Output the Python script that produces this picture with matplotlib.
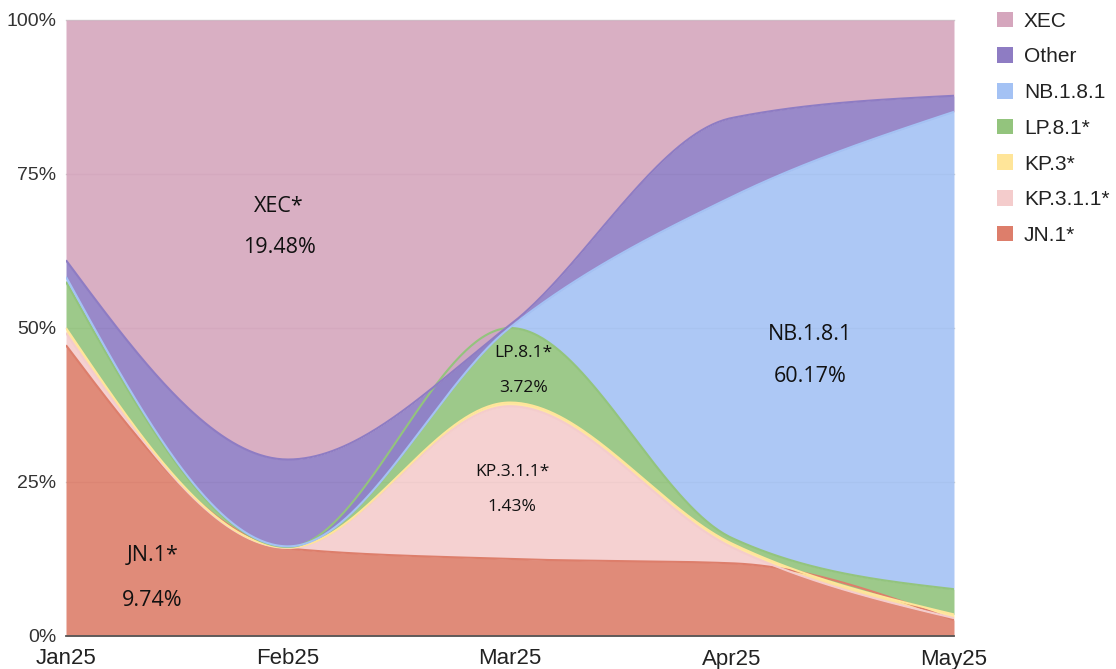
import numpy as np
import matplotlib
matplotlib.use("Agg")
import matplotlib.pyplot as plt
from matplotlib.patches import Patch

months = ["Jan25", "Feb25", "Mar25", "Apr25", "May25"]
series_names = ["JN.1*", "KP.3.1.1*", "KP.3*", "LP.8.1*", "NB.1.8.1", "Other", "XEC"]
jn1 = [47.2, 14.2, 12.5, 11.8, 2.6]
kp311 = [2.0, 0.1, 24.8, 2.6, 0.3]
kp3 = [0.8, 0.05, 0.6, 0.6, 0.6]
lp81 = [7.5, 0.1, 12.1, 0.9, 4.1]
nb181 = [0.8, 0.1, 0.1, 55.4, 77.5]
other = [2.7, 14.1, 0.4, 12.8, 2.6]
xec = [39.0, 71.35, 49.5, 15.9, 12.3]
colors = ["#dd7e6b", "#f4cccc", "#ffe599", "#93c47d", "#a4c2f4", "#8e7cc3", "#d5a6bd"]

annotations = [
    ("XEC*", "19.48%", 0.96, 69.8, 63.1, 15.5),
    ("JN.1*", "9.74%", 0.39, 13.0, 5.8, 15.5),
    ("LP.8.1*", "3.72%", 2.06, 45.9, 40.3, 12.5),
    ("KP.3.1.1*", "1.43%", 2.01, 26.6, 21.0, 12.5),
    ("NB.1.8.1", "60.17%", 3.35, 48.9, 42.1, 15.5),
]


def monotone(xs, ys, n=80):
    xs = np.asarray(xs, float)
    ys = np.asarray(ys, float)
    h = np.diff(xs)
    s = np.diff(ys) / h
    m = np.zeros_like(ys)
    sgn = lambda v: -1.0 if v < 0 else 1.0
    for i in range(1, len(xs) - 1):
        p = (s[i - 1] * h[i] + s[i] * h[i - 1]) / (h[i - 1] + h[i])
        m[i] = (sgn(s[i - 1]) + sgn(s[i])) * min(abs(s[i - 1]), abs(s[i]), 0.5 * abs(p))
    m[0] = (3 * s[0] - m[1]) / 2
    m[-1] = (3 * s[-1] - m[-2]) / 2
    X, Y = [], []
    for i in range(len(xs) - 1):
        t = np.linspace(0, 1, n, endpoint=(i == len(xs) - 2))
        h00 = 2 * t**3 - 3 * t**2 + 1
        h10 = t**3 - 2 * t**2 + t
        h01 = -2 * t**3 + 3 * t**2
        h11 = t**3 - t**2
        X.append(xs[i] + t * h[i])
        Y.append(h00 * ys[i] + h10 * h[i] * m[i] + h01 * ys[i + 1] + h11 * h[i] * m[i + 1])
    return np.concatenate(X), np.concatenate(Y)


data = np.array([jn1, kp311, kp3, lp81, nb181, other, xec], float)
data = data / data.sum(axis=0) * 100
cum = np.cumsum(data, axis=0)
x = np.arange(len(months))

fig = plt.figure(figsize=(11.16, 6.69), dpi=100)
ax = fig.add_axes([66 / 1116, 1 - 636 / 669, (954 - 66) / 1116, 616 / 669])

for yv in [25, 50, 75, 100]:
    ax.axhline(yv, color="#cccccc", lw=1, zorder=0, clip_on=False)

curves = []
prev = None
for i in range(len(series_names)):
    xx, top = monotone(x, cum[i])
    bottom = np.zeros_like(top) if prev is None else prev
    if i == len(series_names) - 1:
        top = np.full_like(top, 100.0)
    ax.fill_between(xx, bottom, top, color=colors[i], alpha=0.9, lw=0, zorder=1 + i * 0.01)
    curves.append((xx, top))
    prev = top

for i in range(len(series_names) - 1):
    xx, top = curves[i]
    ax.plot(xx, top, color=colors[i], lw=1.5, zorder=2 + i * 0.01, solid_capstyle="butt")

ax.axhline(0, color="#555555", lw=1.3, zorder=3, clip_on=False)

ax.set_xlim(0, len(months) - 1)
ax.set_ylim(0, 100)
ax.set_xticks(x)
ax.set_xticklabels(months, fontsize=16, fontfamily="Liberation Sans", color="#222222")
ax.set_yticks([0, 25, 50, 75, 100])
ax.set_yticklabels(["0%", "25%", "50%", "75%", "100%"], fontsize=14,
                   fontfamily="Liberation Sans", color="#333333")
ax.tick_params(axis="both", length=0)
ax.tick_params(axis="x", pad=9)
ax.tick_params(axis="y", pad=7)
for sp in ax.spines.values():
    sp.set_visible(False)

for name, pct, ax_x, y1, y2, fs in annotations:
    ax.text(ax_x, y1, name, ha="center", va="center", fontsize=fs, fontfamily="Open Sans",
            color="#111111", zorder=5)
    ax.text(ax_x, y2, pct, ha="center", va="center", fontsize=fs, fontfamily="Open Sans",
            color="#111111", zorder=5)

handles = [Patch(facecolor=colors[i], edgecolor="none", label=series_names[i])
           for i in range(len(series_names) - 1, -1, -1)]
leg = fig.legend(handles=handles, loc="upper left", bbox_to_anchor=(978 / 1116, 1 + 7 / 669),
                 frameon=False, prop={"family": "Liberation Sans", "size": 15},
                 handlelength=0.77, handleheight=0.77, handletextpad=0.53, labelspacing=0.8)
for t in leg.get_texts():
    t.set_color("#222222")

fig.savefig("out.png", dpi=100)
